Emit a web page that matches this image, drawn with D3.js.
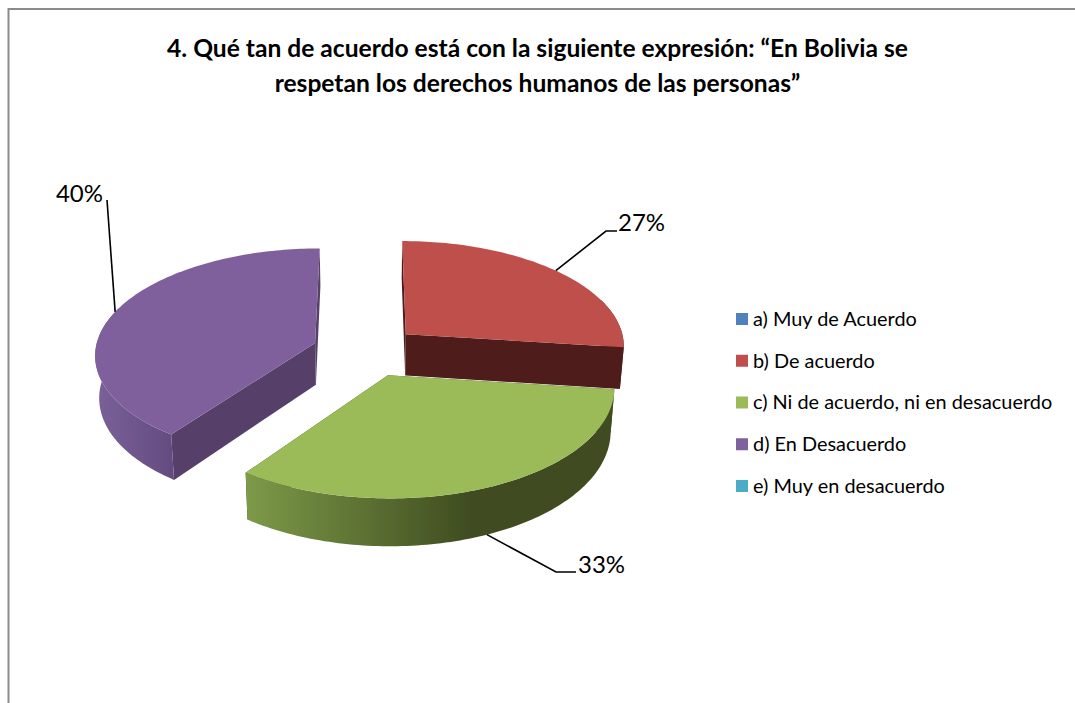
<!DOCTYPE html>
<html><head><meta charset="utf-8">
<script src="https://cdnjs.cloudflare.com/ajax/libs/d3/7.8.5/d3.min.js"></script>
<style>html,body{margin:0;padding:0;background:#fff}svg{display:block}text{font-family:Lato,"Open Sans",sans-serif;fill:#000}</style>
</head><body><div id="c"></div>
<script>
const categories = ["a) Muy de Acuerdo","b) De acuerdo","c) Ni de acuerdo, ni en desacuerdo","d) En Desacuerdo","e) Muy en desacuerdo"];
const values = [0,27,33,40,0];
const colors = ["#4F81BD","#BE4F4C","#9BBB59","#7F619D","#4BACC6"];
const cutColors = ["#254061","#4F1F1E","#3F4C20","#574069","#215968"];
const wallFrom = ["#4F81BD","#4F1F1E","#7D9A48","#7A6199","#4BACC6"];
const wallTo = ["#254061","#4F1F1E","#3F4C20","#644C80","#215968"];
const titleLines = ["4. Qué tan de acuerdo está con la siguiente expresión: “En Bolivia se","respetan los derechos humanos de las personas”"];

const W=1075,H=703;
const svg=d3.select("#c").append("svg").attr("width",W).attr("height",H);
const defs=svg.append("defs");
defs.append("filter").attr("id","soft").attr("x","-5%").attr("y","-5%").attr("width","110%").attr("height","110%")
  .append("feGaussianBlur").attr("stdDeviation",0.55);

// frame
svg.append("path").attr("d",`M8.5,${H}V9H${W}`).attr("fill","none").attr("stroke","#8c8c8c").attr("stroke-width",2);

// title
svg.append("g").selectAll("text").data(titleLines).join("text")
  .attr("x",537.5).attr("y",(d,i)=>57+i*35).attr("text-anchor","middle")
  .attr("font-size",24.6).attr("font-weight",700).text(d=>d);

// 3-D pie: perspective projection of a unit disc
const R=220,cx=366,cy=351,tilt=0.48,persp=0.1,depth=42,explode=0.245,bottomShrink=0.985;
function project(u,v,low){
  const s=1/(1-persp*v);
  const sx=low?s*bottomShrink:s;
  return [cx+u*R*sx, cy+v*R*tilt*s+(low?depth*s:0)];
}
const pie=d3.pie().sort(null).value(d=>d)(values);
const slices=pie.map((p,i)=>{
  const mid=(p.startAngle+p.endAngle)/2;
  return {i,a0:p.startAngle,a1:p.endAngle,mid,value:p.value,
    ox:Math.sin(mid)*explode,oy:-Math.cos(mid)*explode};
}).filter(d=>d.value>0);
const rim=(d,a)=>[d.ox+Math.sin(a),d.oy-Math.cos(a)];
const line=d3.line();
const g=svg.append("g").attr("filter","url(#soft)");
function poly(points,fill){ g.append("path").attr("d",line(points)+"Z").attr("fill",fill); }

const order=slices.slice().sort((a,b)=>a.oy-b.oy);
order.forEach(d=>{
  const n=Math.ceil((d.a1-d.a0)/0.02);
  const angles=d3.range(n+1).map(k=>d.a0+(d.a1-d.a0)*k/n);
  const arcPts=angles.map(a=>rim(d,a));
  const topArc=arcPts.map(p=>project(p[0],p[1],false));
  const lowArc=arcPts.map(p=>project(p[0],p[1],true));
  const apexT=project(d.ox,d.oy,false),apexB=project(d.ox,d.oy,true);
  // cut faces
  poly([apexT,topArc[0],lowArc[0],apexB],cutColors[d.i]);
  poly([apexT,topArc[n],lowArc[n],apexB],cutColors[d.i]);
  // outer wall, shaded left to right
  const visible=d3.range(n+1).filter(k=>Math.cos(angles[k])<=0.35);
  if(visible.length){
    const gid="wall"+d.i;
    const vx=visible.map(k=>topArc[k][0]);
    const xMin=d3.min(vx);
    const xEnd=xMin+Math.min(d3.max(vx)-xMin,225);
    const lg=defs.append("linearGradient").attr("id",gid).attr("gradientUnits","userSpaceOnUse")
      .attr("x1",xMin).attr("x2",xEnd).attr("y1",0).attr("y2",0);
    lg.append("stop").attr("offset",0).attr("stop-color",wallFrom[d.i]);
    lg.append("stop").attr("offset",1).attr("stop-color",wallTo[d.i]);
    const wall=visible.map(k=>topArc[k]).concat(visible.slice().reverse().map(k=>lowArc[k]));
    g.append("path").attr("d",line(wall)+"Z").attr("fill",`url(#${gid})`);
  }
  // top face
  poly([apexT].concat(topArc),colors[d.i]);
});

// leader lines and percentage labels
const labelLayout={1:{elbow:[606,231],end:[617,231],tx:618,ty:223,anchor:"start"},
                   2:{elbow:[556,572],end:[576,572],tx:578,ty:565,anchor:"start"},
                   3:{elbow:[107,200],end:[107,200],tx:103,ty:194,anchor:"end"}};
slices.forEach(d=>{
  const L=labelLayout[d.i];
  const r=rim(d,d.mid);
  const low=Math.cos(d.mid)<0;
  const start=project(r[0],r[1],low);
  svg.append("path").attr("d",line([start,L.elbow,L.end])).attr("fill","none").attr("stroke","#000").attr("stroke-width",1.6);
  svg.append("text").attr("x",L.tx).attr("y",L.ty).attr("dy","0.35em").attr("text-anchor",L.anchor)
    .attr("font-size",24).text(d.value+"%");
});

// legend
const legendY=d3.scalePoint().domain(categories).range([319,486]);
const leg=svg.append("g").selectAll("g").data(categories).join("g")
  .attr("transform",d=>`translate(0,${legendY(d)})`);
leg.append("rect").attr("x",736).attr("y",-6).attr("width",12).attr("height",12).attr("fill",(d,i)=>colors[i]);
leg.append("text").attr("x",753).attr("dy","0.35em").attr("font-size",19.9).text(d=>d);
</script></body></html>
